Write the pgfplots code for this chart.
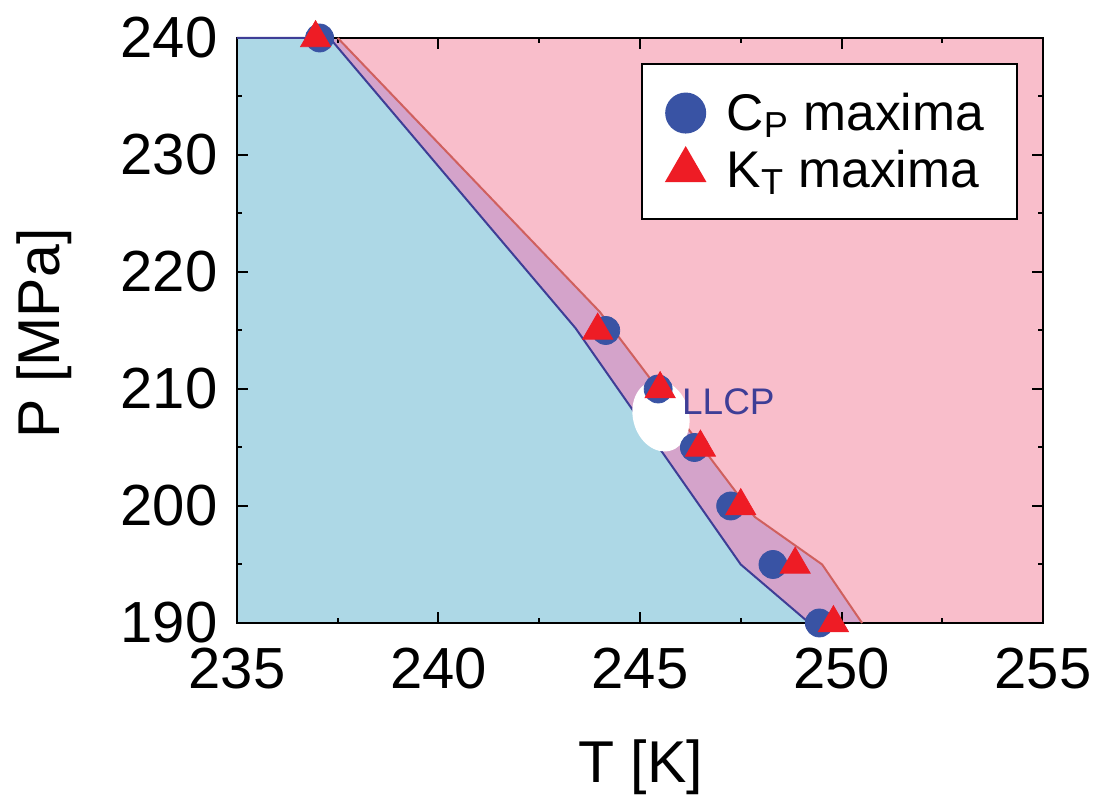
\documentclass[border=0pt]{standalone}
\usepackage{fontspec}
\setmainfont{Liberation Sans}
\usepackage{pgfplots}
\pgfplotsset{compat=1.18}

\definecolor{lowblue}{RGB}{173,216,230}
\definecolor{highpink}{RGB}{249,190,203}
\definecolor{bandpurple}{RGB}{212,163,202}
\definecolor{cpblue}{RGB}{57,83,164}
\definecolor{ktred}{RGB}{238,28,37}
\definecolor{lineblue}{RGB}{62,62,150}
\definecolor{linered}{RGB}{208,96,94}

\begin{document}
\begin{tikzpicture}
\begin{axis}[
    at={(0pt,0pt)}, anchor=south west,
    scale only axis, width=403pt, height=292.5pt,
    xmin=235, xmax=255, ymin=190, ymax=240,
    xtick={235,240,...,255}, ytick={190,200,...,240},
    minor x tick num=1, minor y tick num=1,
    tick align=inside,
    major tick length=5.5pt, minor tick length=2.5pt,
    every tick/.style={black, line width=1pt},
    axis line style={line width=1.2pt},
    set layers, clip=false,
    /pgf/number format/assume math mode=true,
    tick label style={font=\fontsize{29}{29}\selectfont},
    xticklabel style={yshift=-8.8pt},
    yticklabel style={xshift=-6.3pt},
    xlabel={T [K]}, ylabel={P [MPa]},
    label style={font=\fontsize{29.5}{29.5}\selectfont},
    xlabel style={at={(axis description cs:0.501,-0.2735)}, anchor=base},
    ylabel style={at={(axis description cs:-0.2196,0.495)}, anchor=base},
    legend style={at={(0.969,0.957)}, anchor=north east, draw=black, line width=1pt,
        fill=white, font=\fontsize{25.8}{28}\selectfont, inner xsep=0pt, inner ysep=10.2pt,
        nodes={inner sep=0pt}, cells={anchor=west}, row sep=0pt, column sep=0pt},
    legend image code/.code={%
        \path[draw=none, fill=none] (-22pt,-14.25pt) (20.5pt,14.25pt);
        \draw[#1] plot coordinates {(0pt,0pt)};},
]
% regions
\addplot[forget plot, on layer=axis background, fill=lowblue, draw=none]
  coordinates {(235,190) (235,240) (237.3,240) (243.4,215.2) (247.5,195) (249.2,190)} -- cycle;
\addplot[forget plot, on layer=axis background, fill=bandpurple, draw=none]
  coordinates {(237.3,240) (237.5,240) (244.0,216.6) (247.85,199.06) (249.52,195) (250.51,190)
               (249.2,190) (247.5,195) (243.4,215.2)} -- cycle;
\addplot[forget plot, on layer=axis background, fill=highpink, draw=none]
  coordinates {(237.5,240) (255,240) (255,190) (250.51,190) (249.52,195) (247.85,199.06) (244.0,216.6)} -- cycle;
% boundaries
\addplot[forget plot, lineblue, line width=1pt]
  coordinates {(235,240) (237.3,240) (243.4,215.2) (247.5,195) (249.2,190)};
\addplot[forget plot, linered, line width=1pt]
  coordinates {(237.5,240) (244.0,216.6) (247.85,199.06) (249.52,195) (250.51,190)};
% LLCP highlight
\fill[white] (axis cs:245.52,207.7) ellipse [x radius=14pt, y radius=18pt, rotate=15];
% maxima
\addplot[only marks, mark=*, color=cpblue, mark size=7pt,
    legend image post style={mark size=9.75pt}]
  coordinates {(237.05,240) (244.15,215) (245.45,210) (246.35,205) (247.25,200) (248.3,195) (249.45,190)};
\addlegendentry{C\textsubscript{P} maxima\hspace*{16.5pt}}
\addplot[only marks, mark=triangle*, color=ktred, mark size=8.66pt,
    legend image post style={mark size=11pt}]
  coordinates {(236.95,240) (243.95,215) (245.5,210) (246.5,205) (247.5,200) (248.85,195) (249.8,190)};
\addlegendentry{K\textsubscript{T} maxima\hspace*{16.5pt}}
\node[anchor=base west, inner sep=0pt, text=lineblue, font=\fontsize{18.5}{18.5}\selectfont]
  at (axis cs:246.035,207.78) {LLCP};
\end{axis}
\pgfresetboundingbox
\useasboundingbox (-118.5pt,-86pt) rectangle (428.5pt,311.5pt);
\end{tikzpicture}
\end{document}
